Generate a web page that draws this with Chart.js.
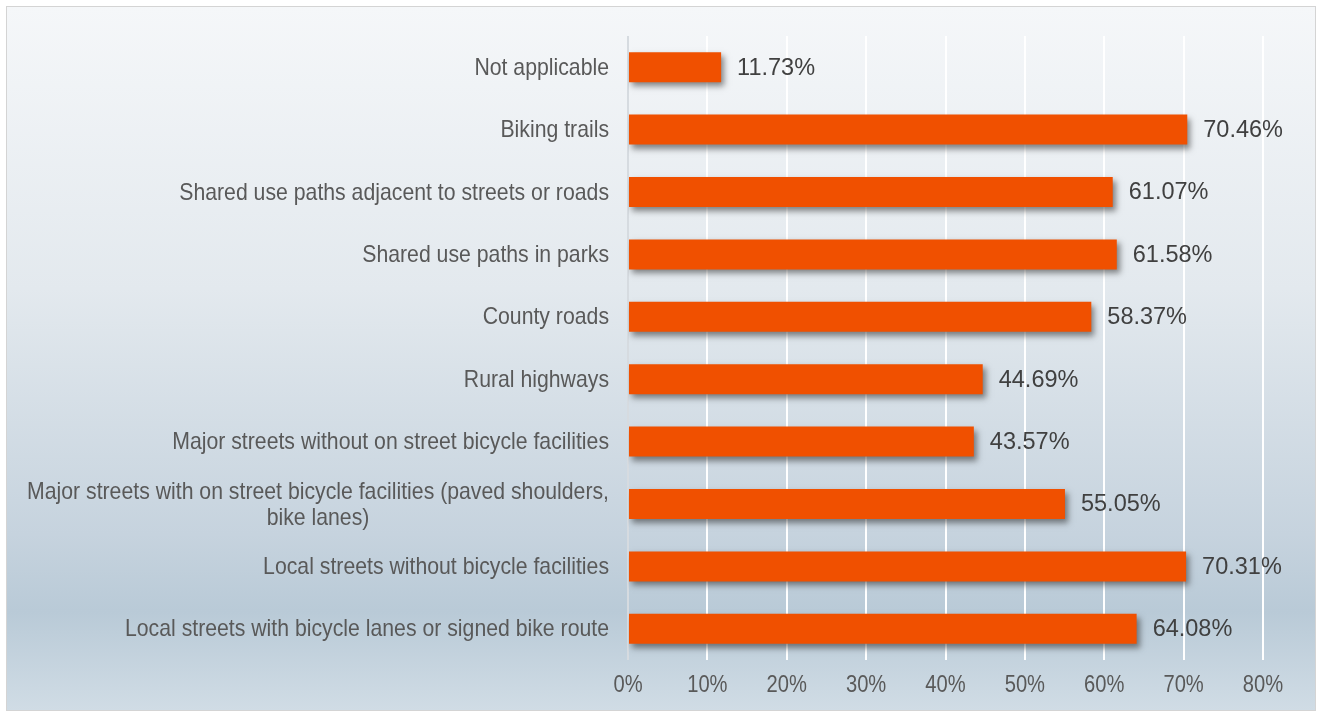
<!DOCTYPE html>
<html>
<head>
<meta charset="utf-8">
<script src="https://cdn.jsdelivr.net/npm/chart.js@4.4.1/dist/chart.umd.min.js"></script>
<style>
    html, body { margin: 0; padding: 0; background: #ffffff; }
    #wrap {
        position: absolute; left: 0; top: 0; width: 1318px; height: 711px;
    }
    #frame {
        position: absolute; left: 6px; top: 6px; width: 1308px; height: 703px;
        border: 1.5px solid #d4d4d4;
        background: linear-gradient(to bottom, #f5f7f9 0%, #e3e9ee 40%, #c6d3de 75%, #b9cad7 86%, #d0dce5 100%);
    }
    canvas { position: absolute; left: 0; top: 0; }
</style>
</head>
<body>
<div id="wrap">
    <div id="frame"></div>
    <canvas id="bike-chart" width="1318" height="711"></canvas>
</div>
<script>
// categories, top to bottom
let categories = [
    "Not applicable",
    "Biking trails",
    "Shared use paths adjacent to streets or roads",
    "Shared use paths in parks",
    "County roads",
    "Rural highways",
    "Major streets without on street bicycle facilities",
    ["Major streets with on street bicycle facilities (paved shoulders,", "bike lanes)"],
    "Local streets without bicycle facilities",
    "Local streets with bicycle lanes or signed bike route"
]

// percent of respondents
let percents = [11.73, 70.46, 61.07, 61.58, 58.37, 44.69, 43.57, 55.05, 70.31, 64.08]

// x axis ticks
let x_min = 0
let x_max = 80
let x_step = 10

// the source text is a bit narrow, so it gets squeezed sideways
let label_font = "24px 'Liberation Sans', Arial, sans-serif"
let label_squeeze = 0.885
let tick_font = "24px 'Liberation Sans', Arial, sans-serif"
let tick_squeeze = 0.84
let value_font = "23.5px 'Liberation Sans', Arial, sans-serif"

// bar gradient, lighter top edge to darker bottom
function barGradient(context){
    let chart = context.chart
    let area = chart.chartArea
    if (!area) return '#f05000'
    let bar = context.element
    if (!bar || bar.y === undefined || !bar.height) return '#f05000'
    let top = bar.y - bar.height / 2
    let bottom = bar.y + bar.height / 2
    if (!isFinite(top) || !isFinite(bottom) || top === bottom) return '#f05000'
    let g = chart.ctx.createLinearGradient(0, top, 0, bottom)
    g.addColorStop(0, '#ee7a55')
    g.addColorStop(0.25, '#f0602a')
    g.addColorStop(0.55, '#f05000')
    g.addColorStop(1, '#dc4600')
    return g
}

// drop shadow under the bars
const barShadow = {
    id: 'barShadow',
    beforeDatasetsDraw(chart){
        let ctx = chart.ctx
        ctx.save()
        ctx.shadowColor = 'rgba(40, 40, 40, 0.55)'
        ctx.shadowBlur = 6
        ctx.shadowOffsetX = 3
        ctx.shadowOffsetY = 4
    },
    afterDatasetsDraw(chart){
        chart.ctx.restore()
    }
}

// value labels at the end of each bar
const valueLabels = {
    id: 'valueLabels',
    afterDatasetsDraw(chart){
        let ctx = chart.ctx
        let meta = chart.getDatasetMeta(0)
        ctx.save()
        ctx.font = value_font
        ctx.fillStyle = '#404040'
        ctx.textAlign = 'left'
        ctx.textBaseline = 'middle'
        for (let i = 0; i < meta.data.length; i++){
            let bar = meta.data[i]
            ctx.fillText(percents[i].toFixed(2) + '%', bar.x + 16, bar.y + 1)
        }
        ctx.restore()
    }
}

// draw squeezed text centred at x
function squeezedText(ctx, text, x, y, squeeze){
    ctx.save()
    ctx.translate(x, y)
    ctx.scale(squeeze, 1)
    ctx.fillText(text, 0, 0)
    ctx.restore()
}

// category labels (wrapped lines centred on each other) and x tick labels
const axisLabels = {
    id: 'axisLabels',
    afterDraw(chart){
        let ctx = chart.ctx
        let y_scale = chart.scales.y
        let x_scale = chart.scales.x
        let right = chart.chartArea.left - 19
        let line_h = 26
        ctx.save()
        ctx.font = label_font
        ctx.fillStyle = '#595959'
        ctx.textBaseline = 'middle'
        ctx.textAlign = 'center'
        for (let i = 0; i < categories.length; i++){
            let lines = Array.isArray(categories[i]) ? categories[i] : [categories[i]]
            let y = y_scale.getPixelForTick(i) + 1
            let widest = 0
            for (let j = 0; j < lines.length; j++){
                widest = Math.max(widest, ctx.measureText(lines[j]).width * label_squeeze)
            }
            let start_y = y - (lines.length - 1) * line_h / 2
            for (let j = 0; j < lines.length; j++){
                squeezedText(ctx, lines[j], right - widest / 2, start_y + j * line_h, label_squeeze)
            }
        }

        // x ticks
        ctx.font = tick_font
        for (let i = 0; i < x_scale.ticks.length; i++){
            let v = x_scale.ticks[i].value
            let x = x_scale.getPixelForValue(v)
            squeezedText(ctx, v + '%', x, chart.chartArea.bottom + 25, tick_squeeze)
        }
        ctx.restore()
    }
}

let chart_data = {
    labels: categories,
    datasets: [{
        label: 'Percent',
        data: percents,
        backgroundColor: barGradient,
        borderWidth: 0,
        barPercentage: 0.48,
        categoryPercentage: 1.0
    }]
}

let chart_options = {
    indexAxis: 'y',
    responsive: false,
    animation: false,
    layout: {
        padding: { left: 0, right: 55, top: 36, bottom: 0 }
    },
    plugins: {
        legend: { display: false },
        tooltip: { enabled: false }
    },
    scales: {
        x: {
            min: x_min,
            max: x_max,
            afterFit: function(scale){ scale.height = 51 },
            ticks: {
                stepSize: x_step,
                display: false
            },
            grid: {
                drawTicks: false,
                lineWidth: 2,
                color: function(c){ return c.tick && c.tick.value === 0 ? '#d6dbe0' : '#ffffff' }
            },
            border: { display: false }
        },
        y: {
            afterFit: function(scale){ scale.width = 628 },
            ticks: { display: false },
            grid: { display: false, drawTicks: false },
            border: { display: false }
        }
    }
}

let ctx = document.getElementById('bike-chart').getContext('2d')
let BikeChart = new Chart(ctx, {
    type: 'bar',
    data: chart_data,
    options: chart_options,
    plugins: [barShadow, valueLabels, axisLabels]
})
</script>
</body>
</html>
